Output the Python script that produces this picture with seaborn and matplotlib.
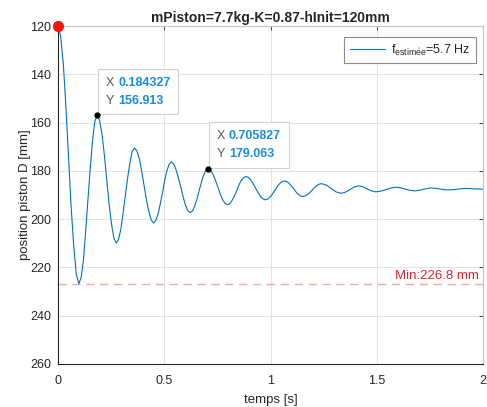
import matplotlib
matplotlib.use("Agg")
import matplotlib.pyplot as plt
import pandas as pd
import seaborn as sns
from matplotlib.offsetbox import TextArea, HPacker, VPacker, AnnotationBbox

# ---------------- data ----------------
title = "mPiston=7.7kg-K=0.87-hInit=120mm"
x_label = "temps [s]"
y_label = "position piston D [mm]"
legend_label = r"f$_{\mathrm{estim\acute{e}e}}$=5.7 Hz"

time_s = [
    0.000, 0.012, 0.025, 0.037, 0.049, 0.061, 0.074, 0.086,
    0.098, 0.109, 0.120, 0.130, 0.141, 0.152, 0.163, 0.173,
    0.184, 0.195, 0.207, 0.218, 0.229, 0.240, 0.252, 0.263,
    0.274, 0.285, 0.296, 0.306, 0.317, 0.328, 0.339, 0.349,
    0.360, 0.371, 0.383, 0.394, 0.405, 0.416, 0.428, 0.439,
    0.450, 0.460, 0.471, 0.481, 0.492, 0.502, 0.512, 0.523,
    0.533, 0.544, 0.555, 0.566, 0.578, 0.589, 0.600, 0.611,
    0.622, 0.633, 0.643, 0.654, 0.664, 0.675, 0.685, 0.696,
    0.706, 0.717, 0.729, 0.740, 0.752, 0.763, 0.774, 0.786,
    0.797, 0.808, 0.819, 0.830, 0.841, 0.851, 0.862, 0.873,
    0.884, 0.895, 0.907, 0.918, 0.930, 0.941, 0.952, 0.964,
    0.975, 0.986, 0.998, 1.009, 1.020, 1.031, 1.043, 1.054,
    1.065, 1.076, 1.087, 1.098, 1.109, 1.119, 1.130, 1.141,
    1.152, 1.163, 1.174, 1.185, 1.196, 1.207, 1.218, 1.229,
    1.240, 1.263, 1.285, 1.308,
    1.330, 1.351, 1.373, 1.394,
    1.415, 1.435, 1.455, 1.475,
    1.495, 1.519, 1.543, 1.566,
    1.590, 1.613, 1.635, 1.658,
    1.680, 1.699, 1.718, 1.736,
    1.755, 1.776, 1.798, 1.819,
    1.840, 1.860, 1.880, 1.900,
    1.920, 2.000,
]
position_mm = [
    120.0, 124.1, 135.6, 153.0, 173.4, 193.8, 211.2, 222.7,
    226.8, 224.1, 216.6, 205.2, 191.9, 178.5, 167.1, 159.6,
    156.9, 158.9, 164.7, 173.3, 183.4, 193.5, 202.1, 207.9,
    209.9, 208.4, 204.1, 197.7, 190.2, 182.7, 176.3, 172.0,
    170.5, 171.7, 175.1, 180.1, 186.1, 192.0, 197.1, 200.4,
    201.6, 200.6, 197.9, 193.8, 189.0, 184.1, 180.0, 177.3,
    176.3, 177.1, 179.4, 182.8, 186.8, 190.8, 194.2, 196.5,
    197.3, 196.6, 194.6, 191.7, 188.2, 184.7, 181.8, 179.8,
    179.1, 179.7, 181.3, 183.7, 186.6, 189.4, 191.8, 193.4,
    194.0, 193.6, 192.3, 190.4, 188.2, 185.9, 184.0, 182.8,
    182.3, 182.7, 183.7, 185.3, 187.2, 189.0, 190.6, 191.6,
    192.0, 191.7, 190.9, 189.6, 188.1, 186.6, 185.3, 184.5,
    184.2, 184.4, 185.1, 186.2, 187.4, 188.6, 189.7, 190.4,
    190.6, 190.4, 189.8, 189.0, 188.0, 186.9, 186.1, 185.5,
    185.3, 185.9, 187.3, 188.7,
    189.3, 188.9, 187.8, 186.7,
    186.2, 186.6, 187.5, 188.3,
    188.7, 188.4, 187.8, 187.1,
    186.8, 187.0, 187.6, 188.1,
    188.3, 188.1, 187.7, 187.3,
    187.1, 187.2, 187.5, 187.8,
    187.9, 187.8, 187.6, 187.4,
    187.3, 187.6,
]

start_point = (0.0, 120.0)
tip_x = [0.184327, 0.705827]
tip_y = [156.913, 179.063]
min_value = 226.8
min_text = "Min:226.8 mm"

x_ticks = [0, 0.5, 1, 1.5, 2]
x_tick_labels = ["0", "0.5", "1", "1.5", "2"]
y_ticks = [120, 140, 160, 180, 200, 220, 240, 260]
y_tick_labels = ["120", "140", "160", "180", "200", "220", "240", "260"]

# ---------------- styling ----------------
sns.set_theme(style="whitegrid")
plt.rcParams["font.family"] = ["Liberation Sans", "DejaVu Sans"]
plt.rcParams["mathtext.fontset"] = "custom"
plt.rcParams["mathtext.rm"] = "Liberation Sans"
plt.rcParams["mathtext.it"] = "Liberation Sans:italic"
plt.rcParams["mathtext.bf"] = "Liberation Sans:bold"

dark = "#262626"
line_blue = "#0072BD"
tip_blue = "#1a8ce0"

fig = plt.figure(figsize=(4.87, 4.07), dpi=100)
fig.patch.set_facecolor("white")
ax = fig.add_axes([58 / 487, 43 / 407, 425 / 487, 338 / 407])
ax.set_facecolor("white")

df = pd.DataFrame({"t": time_s, "pos": position_mm})
sns.lineplot(data=df, x="t", y="pos", ax=ax, color=line_blue, linewidth=0.8,
             label=legend_label, sort=False, estimator=None)

ax.set_xlim(0, 2)
ax.set_ylim(260, 120)
ax.set_xticks(x_ticks)
ax.set_xticklabels(x_tick_labels)
ax.set_yticks(y_ticks)
ax.set_yticklabels(y_tick_labels)

ax.grid(True, color="#e3e3e3", linewidth=0.7)
ax.set_axisbelow(True)
for side in ["left", "bottom"]:
    ax.spines[side].set_color(dark)
    ax.spines[side].set_linewidth(0.8)
for side in ["top", "right"]:
    ax.spines[side].set_color("#c4c4c4")
    ax.spines[side].set_linewidth(0.8)
    ax.spines[side].set_visible(True)

ax.tick_params(axis="both", which="both", direction="in", length=3, width=0.6,
               color=dark, labelcolor=dark, labelsize=9,
               top=True, right=True, labeltop=False, labelright=False)
ax.tick_params(axis="x", pad=8)
ax.tick_params(axis="y", pad=5)

ax.set_xlabel(x_label, fontsize=9.5, color=dark, labelpad=5)
ax.set_ylabel(y_label, fontsize=9.5, color=dark, labelpad=-0.5)
ax.set_title(title, fontsize=10, fontweight="bold", color=dark, pad=3)

# minimum dashed line and label
ax.axhline(min_value, color="#f6a8a8", linestyle=(0, (6, 4)), linewidth=1.0, zorder=1)
ax.text(1.981, min_value - 3.3, min_text, color="#e0262b", ha="right", va="center",
        fontsize=9.5)

# start point
ax.plot([start_point[0]], [start_point[1]], "o", color="#ff1010", markersize=7,
        clip_on=False, zorder=6)

# data tips
for tx, ty in zip(tip_x, tip_y):
    row1 = HPacker(children=[
        TextArea("X", textprops=dict(color="#555555", fontsize=9)),
        TextArea(f"{tx:.6f}", textprops=dict(color=tip_blue, fontsize=9, fontweight="bold")),
    ], align="baseline", pad=0, sep=3)
    row2 = HPacker(children=[
        TextArea("Y", textprops=dict(color="#555555", fontsize=9)),
        TextArea(f"{ty:.3f}", textprops=dict(color=tip_blue, fontsize=9, fontweight="bold")),
    ], align="baseline", pad=0, sep=3)
    box = VPacker(children=[row1, row2], align="left", pad=0, sep=4.5)
    ab = AnnotationBbox(box, (tx, ty), xybox=(6.0, 6.0), boxcoords="offset points",
                        box_alignment=(0, 0), frameon=True,
                        bboxprops=dict(facecolor="white", edgecolor="#d2d2d2",
                                       linewidth=0.8, boxstyle="square,pad=0.5"),
                        zorder=7)
    ax.add_artist(ab)
ax.plot(tip_x, tip_y, "o", color="black", markersize=3.5, zorder=8, clip_on=False)

# legend
leg = ax.legend(loc="upper right", bbox_to_anchor=(1 - 7 / 425, 1 - 11 / 338),
                frameon=True, fancybox=False, fontsize=9, handlelength=2.8,
                borderpad=0.45, handletextpad=0.5, borderaxespad=0)
leg.get_frame().set_edgecolor("#8c8c8c")
leg.get_frame().set_linewidth(0.8)
leg.get_frame().set_facecolor("white")
leg.get_frame().set_alpha(1)
for t in leg.get_texts():
    t.set_color(dark)

fig.savefig("out.png", dpi=100, facecolor="white")
